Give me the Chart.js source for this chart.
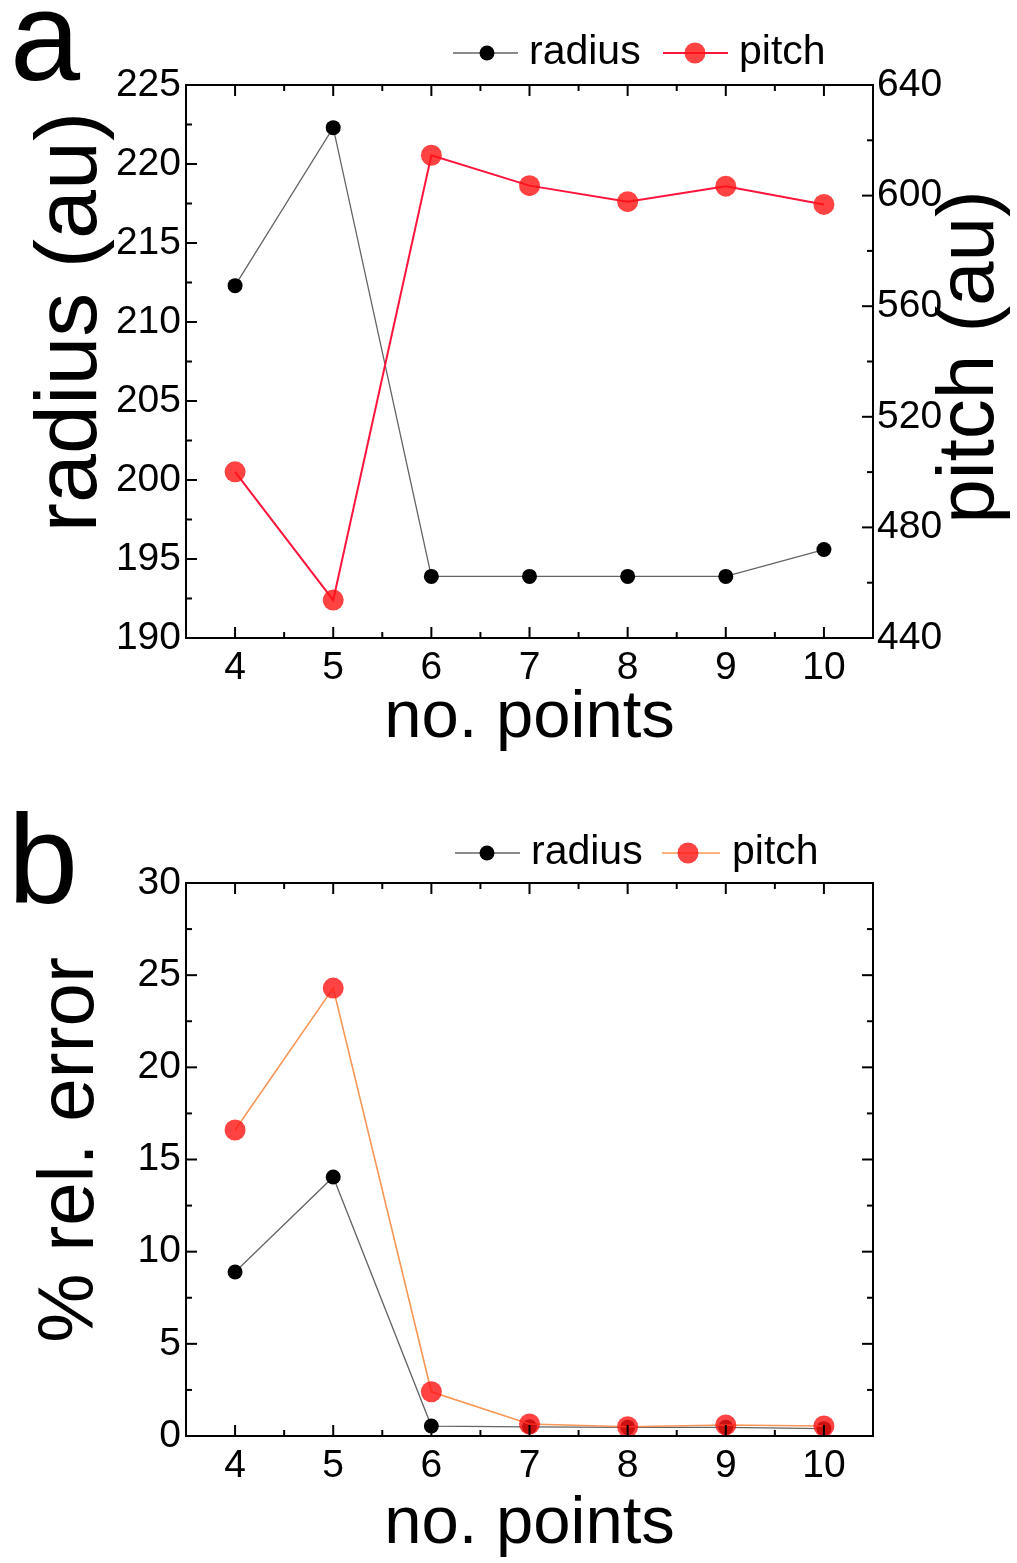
<!DOCTYPE html>
<html>
<head>
<meta charset="utf-8">
<script src="https://cdn.jsdelivr.net/npm/chart.js@4.4.0/dist/chart.umd.min.js"></script>
<style>
  body { margin: 0; background: #fff; }
  canvas { display: block; }
</style>
</head>
<body>
<canvas id="chart-a" width="1017" height="780"></canvas>
<canvas id="chart-b" width="1017" height="783"></canvas>
<script>
'use strict';

// data
const nPoints   = [4, 5, 6, 7, 8, 9, 10];
const radiusAu  = [212.3, 222.3, 193.9, 193.9, 193.9, 193.9, 195.6];
const pitchAu   = [500.1, 453.7, 614.6, 603.6, 597.8, 603.4, 596.8];
const radiusErr = [8.9, 14.05, 0.54, 0.5, 0.47, 0.47, 0.4];
const pitchErr  = [16.6, 24.3, 2.4, 0.65, 0.5, 0.6, 0.54];

// axes
const xTicks      = [4, 5, 6, 7, 8, 9, 10];
const radiusRange = [190, 225, 5];
const pitchRange  = [440, 640, 40];
const errRange    = [0, 30, 5];

const FONT = '"Liberation Sans", Arial, sans-serif';

/* ── box frame + inward major/minor ticks ───────────────────── */
const frameTicks = {
  id: 'frameTicks',
  afterDatasetsDraw(chart) {
    const { ctx, chartArea: a, scales } = chart;
    const mids = vals => vals.slice(1).map((v, i) => (v + vals[i]) / 2);
    const line = (x1, y1, x2, y2) => {
      ctx.beginPath(); ctx.moveTo(x1, y1); ctx.lineTo(x2, y2); ctx.stroke();
    };
    ctx.save();
    ctx.strokeStyle = '#000';
    ctx.lineWidth = 2;
    ctx.strokeRect(a.left, a.top, a.right - a.left, a.bottom - a.top);

    const xv = scales.x.ticks.map(t => t.value);
    xv.forEach(v => {
      const p = scales.x.getPixelForValue(v);
      line(p, a.bottom, p, a.bottom - 11);
      line(p, a.top, p, a.top + 11);
    });
    mids(xv).forEach(v => {
      const p = scales.x.getPixelForValue(v);
      line(p, a.bottom, p, a.bottom - 6);
      line(p, a.top, p, a.top + 6);
    });

    const yTicks = (scale, x0, dir) => {
      const vals = scale.ticks.map(t => t.value);
      vals.forEach(v => { const p = scale.getPixelForValue(v); line(x0, p, x0 + dir * 11, p); });
      mids(vals).forEach(v => { const p = scale.getPixelForValue(v); line(x0, p, x0 + dir * 6, p); });
    };
    yTicks(scales.y, a.left, 1);
    yTicks(scales.y1 || scales.y, a.right, -1);
    ctx.restore();
  }
};

/* ── legend: line + marker + label, styled from datasets ────── */
const lineLegend = {
  id: 'lineLegend',
  afterDraw(chart, args, opts) {
    const { ctx } = chart;
    ctx.save();
    chart.data.datasets.forEach((ds, i) => {
      const it = opts.items[i];
      ctx.strokeStyle = ds.borderColor;
      ctx.lineWidth = ds.borderWidth;
      ctx.beginPath(); ctx.moveTo(it.x0, opts.y); ctx.lineTo(it.x1, opts.y); ctx.stroke();
      ctx.fillStyle = ds.pointBackgroundColor;
      ctx.beginPath(); ctx.arc(it.mx, opts.y, ds.pointRadius, 0, Math.PI * 2); ctx.fill();
      ctx.fillStyle = '#000';
      ctx.font = `${opts.size}px ${FONT}`;
      ctx.textBaseline = 'middle';
      ctx.textAlign = 'left';
      ctx.fillText(ds.label, it.tx, opts.y);
    });
    ctx.restore();
  }
};

/* ── rotated y titles + panel letter ─────────────────────────── */
const sideTexts = {
  id: 'sideTexts',
  afterDraw(chart, args, opts) {
    const { ctx } = chart;
    ctx.save();
    ctx.fillStyle = '#000';
    opts.texts.forEach(t => {
      ctx.save();
      ctx.translate(t.x, t.y);
      ctx.rotate(t.rot || 0);
      ctx.font = `${t.size}px ${FONT}`;
      ctx.textAlign = t.align || 'center';
      ctx.textBaseline = 'alphabetic';
      ctx.fillText(t.text, 0, 0);
      ctx.restore();
    });
    ctx.restore();
  }
};

function series(label, values, color, width, marker, r, yAxisID, order) {
  return {
    label,
    data: nPoints.map((x, i) => ({ x, y: values[i] })),
    borderColor: color,
    borderWidth: width,
    pointBackgroundColor: marker,
    pointBorderWidth: 0,
    pointRadius: r,
    pointHoverRadius: r,
    yAxisID,
    order,
  };
}

function xScale(titlePad, height) {
  return {
    type: 'linear',
    min: 3.5,
    max: 10.5,
    afterBuildTicks: s => { s.ticks = xTicks.map(value => ({ value })); },
    afterFit: s => { s.height = height; },
    grid: { display: false, drawTicks: false },
    border: { display: false },
    ticks: { color: '#000', font: { size: 39, family: FONT }, padding: 7 },
    title: {
      display: true, text: 'no. points', color: '#000',
      font: { size: 67, family: FONT, lineHeight: 1 },
      padding: { top: 0, bottom: titlePad },
    },
  };
}

function yScale(range, position, width, pad) {
  return {
    type: 'linear',
    position,
    min: range[0],
    max: range[1],
    afterFit: s => { s.width = width; },
    grid: { display: false, drawTicks: false },
    border: { display: false },
    ticks: { stepSize: range[2], color: '#000', font: { size: 39, family: FONT }, padding: pad },
  };
}

const common = {
  type: 'line',
  plugins: [frameTicks, lineLegend, sideTexts],
};

/* ── panel a ─────────────────────────────────────────────────── */
new Chart(document.getElementById('chart-a'), {
  ...common,
  data: {
    datasets: [
      series('radius', radiusAu, 'rgb(100,100,100)', 1.3, '#000', 7.5, 'y', 1),
      series('pitch', pitchAu, 'rgb(255,20,60)', 2, 'rgba(255,20,20,0.8)', 10.5, 'y1', 0),
    ],
  },
  options: {
    responsive: false,
    animation: false,
    layout: { padding: { top: 85, left: 0, right: 0, bottom: 0 } },
    scales: {
      x: xScale(28, 142),
      y: yScale(radiusRange, 'left', 186, 5),
      y1: yScale(pitchRange, 'right', 144, 4),
    },
    plugins: {
      legend: { display: false },
      tooltip: { enabled: false },
      lineLegend: {
        y: 53, size: 41,
        items: [
          { x0: 453, x1: 518, mx: 487, tx: 529 },
          { x0: 663, x1: 728, mx: 695, tx: 739 },
        ],
      },
      sideTexts: {
        texts: [
          { text: 'a', x: 10, y: 80, size: 126, align: 'left' },
          { text: 'radius (au)', x: 96, y: 322, size: 88, rot: -Math.PI / 2 },
          { text: 'pitch (au)', x: 993, y: 357, size: 80, rot: -Math.PI / 2 },
        ],
      },
    },
  },
});

/* ── panel b ─────────────────────────────────────────────────── */
new Chart(document.getElementById('chart-b'), {
  ...common,
  data: {
    datasets: [
      series('radius', radiusErr, 'rgb(100,100,100)', 1.3, '#000', 7.5, 'y', 1),
      series('pitch', pitchErr, 'rgb(248,150,85)', 1.6, 'rgba(255,20,20,0.8)', 10.5, 'y', 0),
    ],
  },
  options: {
    responsive: false,
    animation: false,
    layout: { padding: { top: 103, left: 0, right: 144, bottom: 0 } },
    scales: {
      x: xScale(5, 127),
      y: yScale(errRange, 'left', 186, 5),
    },
    plugins: {
      legend: { display: false },
      tooltip: { enabled: false },
      lineLegend: {
        y: 73, size: 41,
        items: [
          { x0: 455, x1: 520, mx: 487, tx: 531 },
          { x0: 662, x1: 720, mx: 688, tx: 732 },
        ],
      },
      sideTexts: {
        texts: [
          { text: 'b', x: 8, y: 123, size: 126, align: 'left' },
          { text: '% rel. error', x: 93, y: 370, size: 78, rot: -Math.PI / 2 },
        ],
      },
    },
  },
});
</script>
</body>
</html>
